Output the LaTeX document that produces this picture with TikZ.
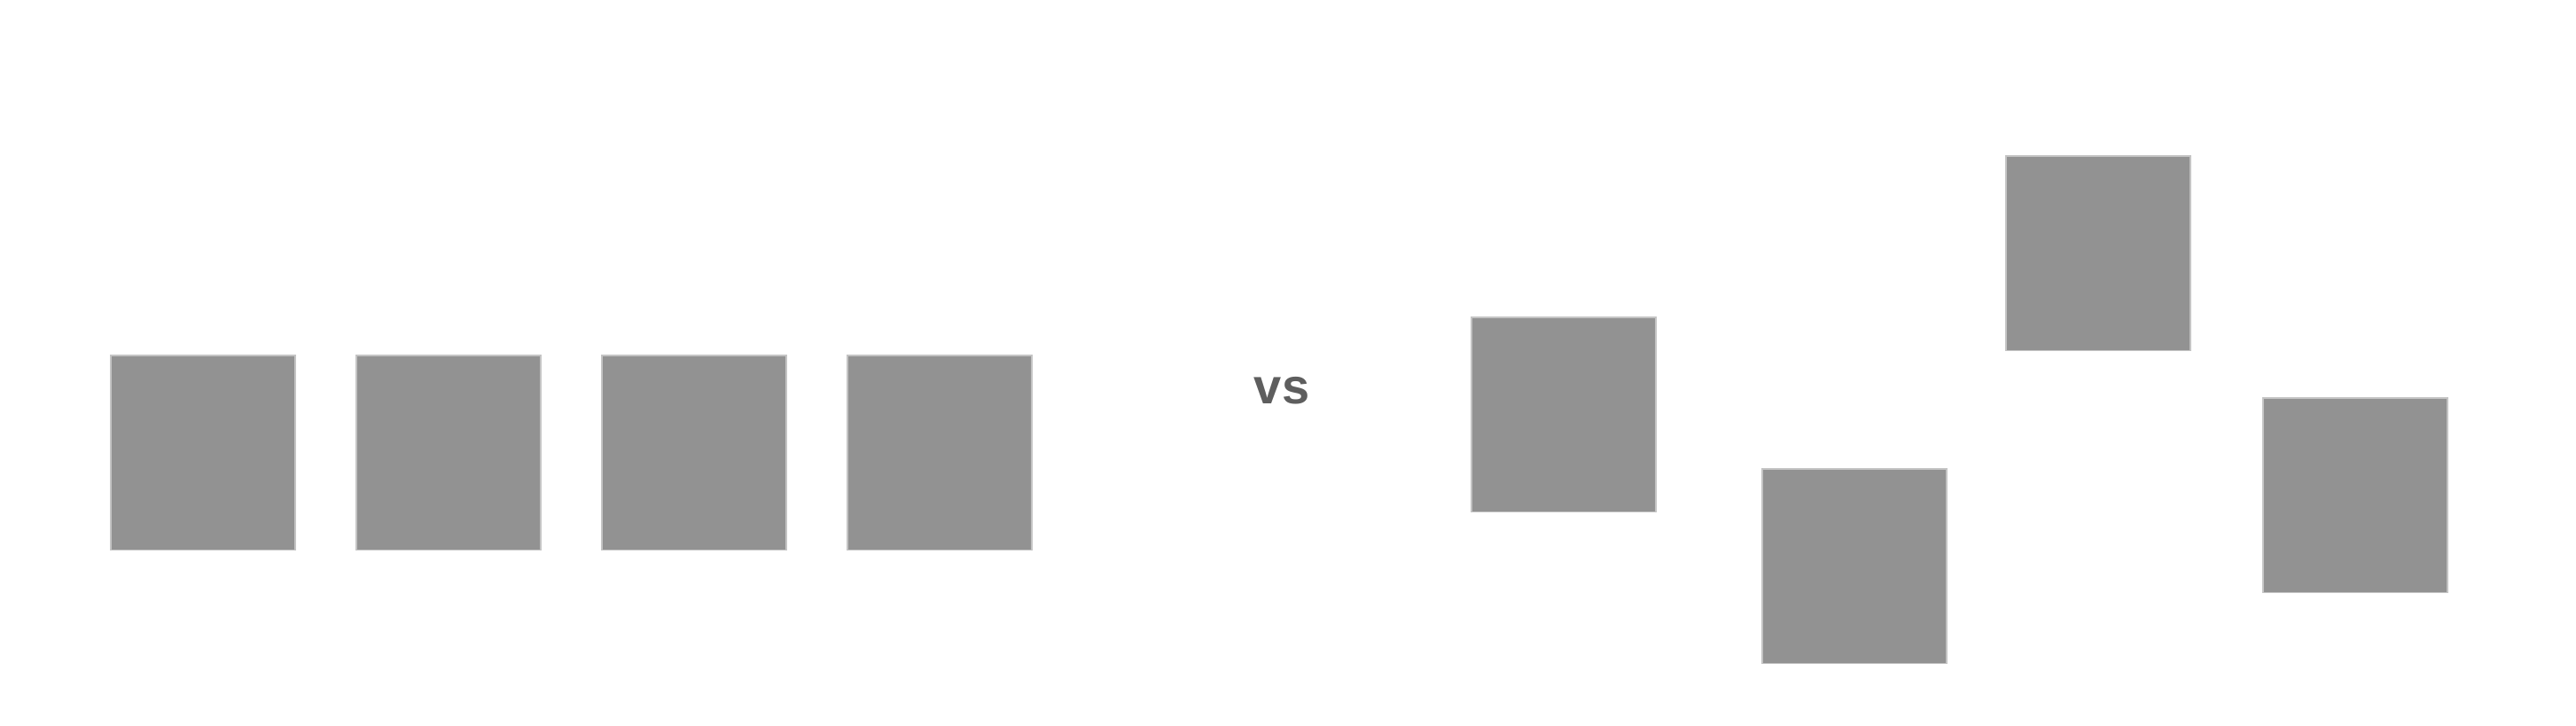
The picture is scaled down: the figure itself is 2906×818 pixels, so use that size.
\documentclass[tikz,border=0pt]{standalone}
\usepackage{fontspec}
\setmainfont{Liberation Sans}
\definecolor{boxfill}{HTML}{929292}
\definecolor{boxline}{HTML}{C4C4C4}
\definecolor{vstext}{HTML}{5E5E5E}
\begin{document}
\begin{tikzpicture}[x=0.25pt,y=-0.25pt,
  gbox/.style={rectangle, anchor=north west, inner sep=0pt, outer sep=0pt,
    minimum width=52pt, minimum height=54.8pt, fill=boxfill, draw=boxline, line width=0.3pt},
  vslabel/.style={inner sep=0pt, text=vstext, font=\fontsize{14}{16}\selectfont\bfseries}]
\useasboundingbox[fill=white] (0,0) rectangle (2906,818);
\node[gbox] (l1) at (125,401) {};
\node[gbox] (l2) at (402,401) {};
\node[gbox] (l3) at (679,401) {};
\node[gbox] (l4) at (956,401) {};
\node[vslabel] (vs) at (1446,441) {vs};
\node[gbox] (r1) at (1660,358) {};
\node[gbox] (r2) at (1988,529) {};
\node[gbox] (r3) at (2263,176) {};
\node[gbox] (r4) at (2553,449) {};
\end{tikzpicture}
\end{document}
